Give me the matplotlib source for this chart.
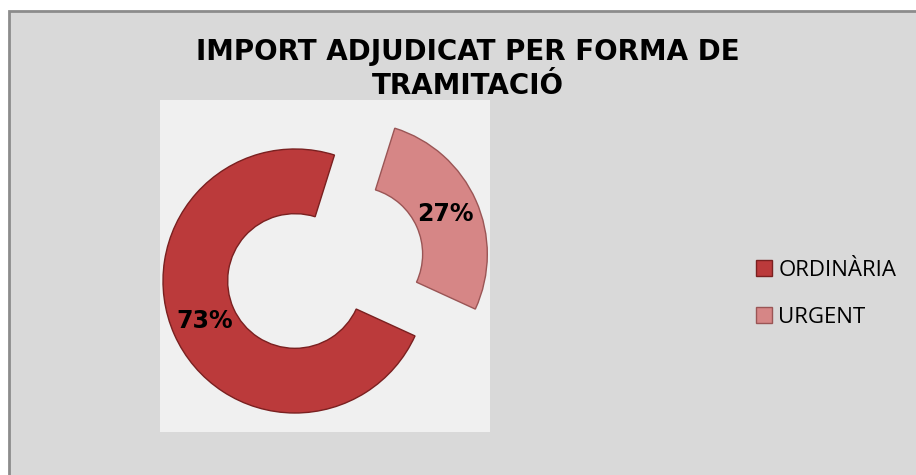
import matplotlib
matplotlib.use("Agg")
import matplotlib.pyplot as plt
from matplotlib.patches import Rectangle

# Data
categories = ["ORDINÀRIA", "URGENT"]
values = [73, 27]
title = "IMPORT ADJUDICAT PER FORMA DE\nTRAMITACIÓ"

colors = ["#bb3a3b", "#d68686"]
edge_colors = ["#7a2020", "#9a5555"]

W, H = 916, 475
fig = plt.figure(figsize=(W / 100, H / 100), dpi=100)
fig.patch.set_facecolor("white")

# chart area background with frame
bg = Rectangle((9 / W, -0.01), 1.0, (H - 11) / H + 0.01,
               transform=fig.transFigure, facecolor="#d9d9d9",
               edgecolor="#8c8c8c", linewidth=2, zorder=-10)
fig.patches.append(bg)

# plot area
L, T, R, B = 160, 100, 490, 432
ax = fig.add_axes([L / W, 1 - B / H, (R - L) / W, (B - T) / H])
ax.set_zorder(1)
wedges, texts, autotexts = ax.pie(
    values, explode=[0, 0.5], startangle=-24.6, counterclock=False,
    colors=colors, radius=1.0, autopct="%1.0f%%", pctdistance=0.75,
    wedgeprops=dict(width=0.49, linewidth=1.0),
    textprops=dict(fontsize=17, fontweight="bold", color="black",
                   family="DejaVu Sans"),
    frame=True)
for w, ec in zip(wedges, edge_colors):
    w.set_edgecolor(ec)
ax.set_aspect("auto")
r_px = 132.0
cx, cy = 295 - L, B - 281
ax.set_xlim(-cx / r_px, (R - L - cx) / r_px)
ax.set_ylim(-cy / r_px, (B - T - cy) / r_px)
ax.set_facecolor("#f0f0f0")
ax.set_xticks([])
ax.set_yticks([])
for s in ax.spines.values():
    s.set_visible(False)

# title
fig.text(468 / W, 1 - 38 / H, title, ha="center", va="top",
         fontsize=20, fontweight="bold", family="DejaVu Sans",
         linespacing=1.25, color="black", zorder=2)

# legend
leg = fig.legend(wedges, categories, loc="upper left",
                 bbox_to_anchor=(756 / W, 1 - 260 / H), frameon=False,
                 prop=dict(family="Open Sans", size=16),
                 handlelength=0.7, handleheight=0.7, handletextpad=0.3,
                 labelspacing=1.15, borderpad=0, borderaxespad=0)

fig.savefig("out.png", dpi=100, facecolor=fig.get_facecolor())
